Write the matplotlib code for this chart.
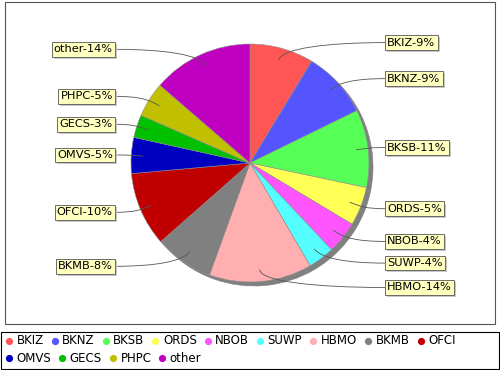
import numpy as np
import matplotlib
matplotlib.use("Agg")
from matplotlib import pyplot as plt
from matplotlib.path import Path
from matplotlib.patches import PathPatch, Rectangle
from matplotlib import patheffects

names = ["BKIZ", "BKNZ", "BKSB", "ORDS", "NBOB", "SUWP", "HBMO",
         "BKMB", "OFCI", "OMVS", "GECS", "PHPC", "other"]
shares = [8.7, 9.1, 10.6, 5.3, 4.4, 3.6, 14.0, 8.0, 10.1, 4.9, 3.1, 4.8, 13.7]
colors = ["#ff5555", "#5555ff", "#55ff55", "#ffff55", "#ff55ff", "#55ffff",
          "#ffafaf", "#808080", "#c00000", "#0000c0", "#00c000", "#c0c000",
          "#c000c0"]

W, H = 500, 370
fig = plt.figure(figsize=(W / 100, H / 100), dpi=100)
ax = fig.add_axes([0, 0, 1, 1])

# pixel-like data coords, y going up
cx, cy, R = 250, 207, 119

wedges, _ = ax.pie(shares, colors=colors, startangle=90, counterclock=False,
                   center=(cx, cy), radius=R, frame=True,
                   wedgeprops=dict(edgecolor="#909090", linewidth=0.4),
                   shadow=dict(ox=2.9, oy=-2.9, facecolor="#808080",
                               edgecolor="#808080", alpha=1.0))
ax.set_xlim(0, W)
ax.set_ylim(0, H)
ax.set_axis_off()

# frame around the plot and the legend
ax.add_patch(Rectangle((5, H - 324), 490, 322, fill=False, ec="#555555", lw=0.8))
ax.add_patch(Rectangle((1, H - 369), 498, 37, fill=False, ec="black", lw=0.8))

total = sum(shares)
for w, name, v in zip(wedges, names, shares):
    mid = np.radians((w.theta1 + w.theta2) / 2)
    c, s = np.cos(mid), np.sin(mid)
    side = 1 if c >= 0 else -1
    ax0, ay0 = cx + 0.9 * R * c, cy + 0.9 * R * s
    ly = cy + 125 * s
    lx = cx + side * 135
    pct = round(100 * v / total)
    t = ax.text(lx + side * 2.2, ly, f"{name}-{pct}%", fontsize=8.2,
                ha="left" if side > 0 else "right", va="center",
                bbox=dict(boxstyle="square,pad=0.2", fc="#ffffc0",
                          ec="#555555", lw=0.6), zorder=5)
    t.get_bbox_patch().set_path_effects([
        patheffects.SimplePatchShadow(offset=(1.5, -1.5),
                                      shadow_rgbFace="#c8c8c8", alpha=1),
        patheffects.Normal()])
    verts = [(ax0, ay0), (cx + R * c, cy + R * s),
             (ax0 + side * 0.45 * abs(lx - ax0), ly), (lx, ly)]
    codes = [Path.MOVETO, Path.CURVE4, Path.CURVE4, Path.CURVE4]
    ax.add_patch(PathPatch(Path(verts, codes), fill=False, ec="#555555",
                           lw=0.6, zorder=4))

# legend, flowing left to right and wrapping
renderer = fig.canvas.get_renderer()
x, y = 9, H - 341
for name, col in zip(names, colors):
    t = ax.text(x + 7.5, y, name, fontsize=8.5, va="center", ha="left")
    tw = t.get_window_extent(renderer).width
    if x + 7.5 + tw > 495:
        x, y = 9, y - 17
        t.set_position((x + 7.5, y))
    ax.plot(x, y, "o", ms=5.2, color=col, mew=0)
    x += 7.5 + tw + 11

fig.savefig("out.png", dpi=100)
